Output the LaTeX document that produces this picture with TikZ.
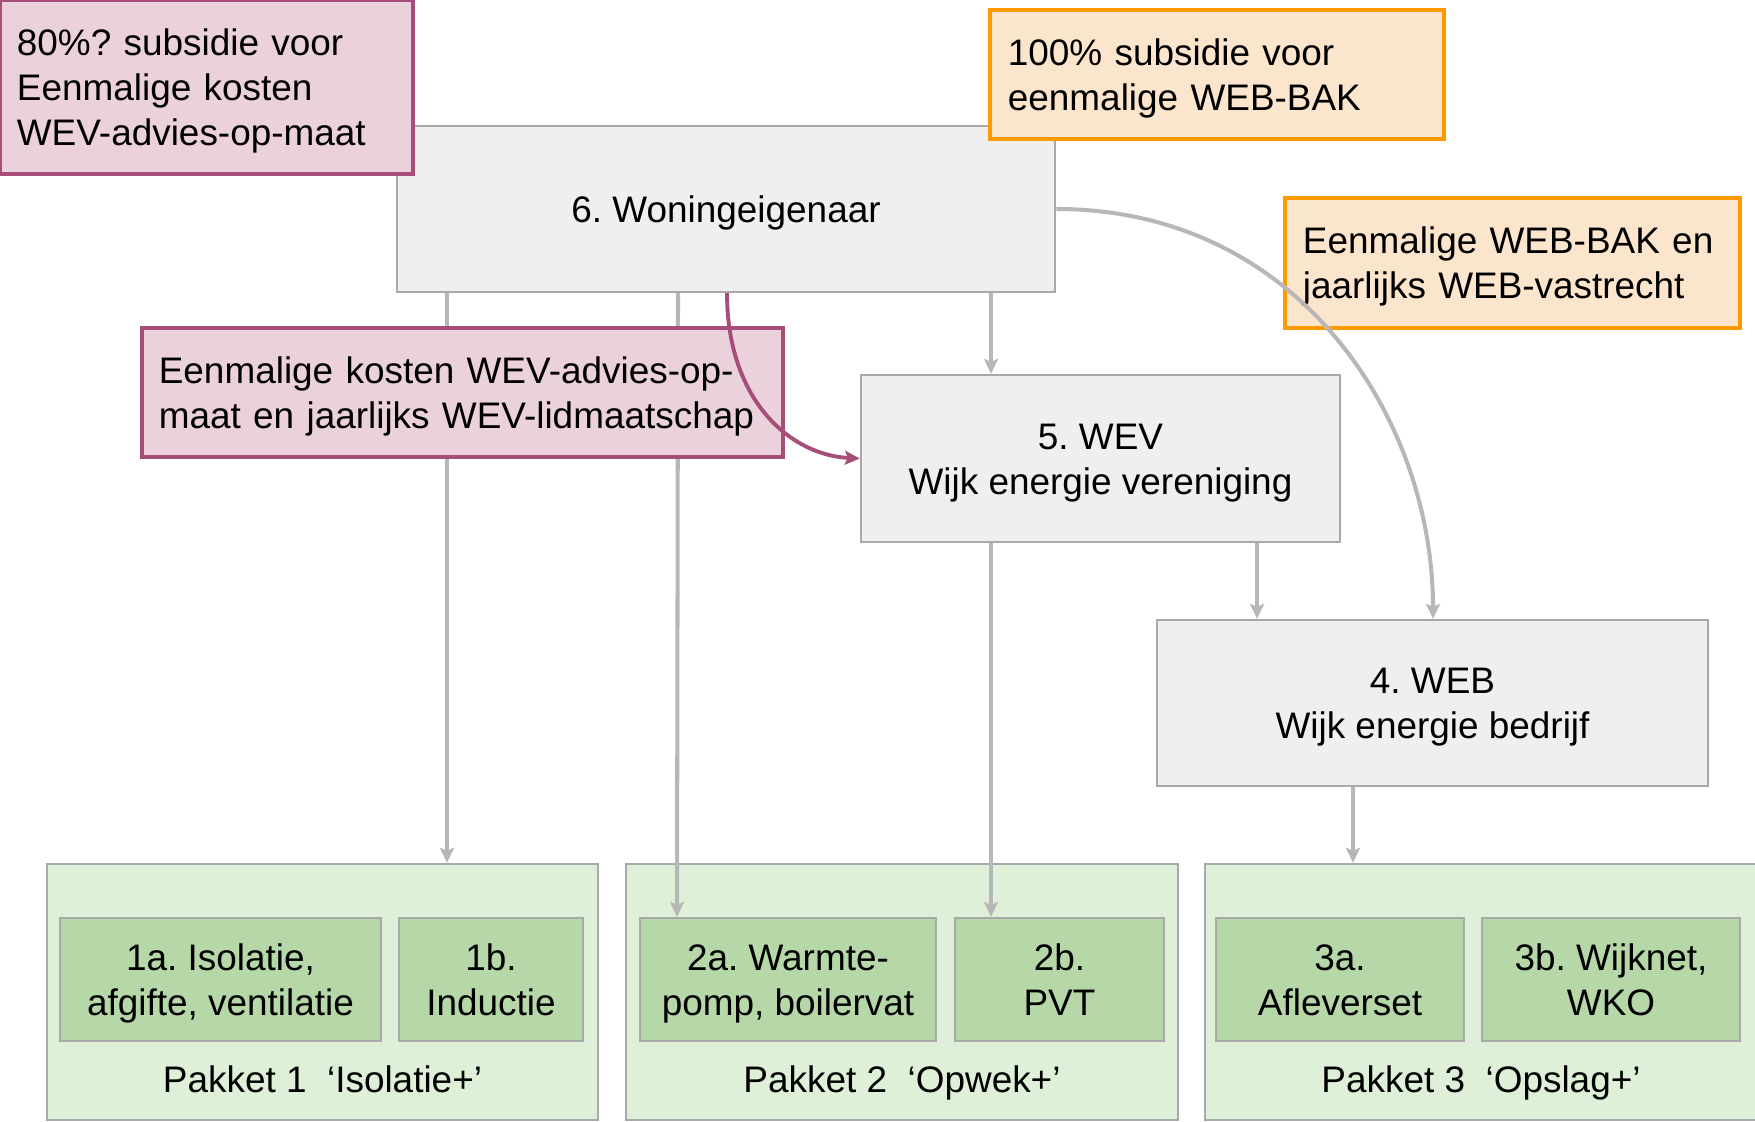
\documentclass[tikz,border=0pt]{standalone}
\usepackage{fontspec}
\setmainfont{Liberation Sans}
\usetikzlibrary{arrows.meta}
\definecolor{pinkfill}{HTML}{EAD1DC}
\definecolor{pinkline}{HTML}{A64D79}
\definecolor{orangefill}{HTML}{FCE5CD}
\definecolor{orangeline}{HTML}{FF9900}
\definecolor{greyfill}{HTML}{EFEFEF}
\definecolor{boxgrey}{HTML}{A9A9A9}
\definecolor{arrowgrey}{HTML}{B7B7B7}
\definecolor{pkgfill}{HTML}{DFF0D8}
\definecolor{itemfill}{HTML}{B6D7A8}
\frenchspacing
\newcommand\tstrut{\rule{0pt}{0.93em}}
\newcommand\bstrut{\rule[-0.214em]{0pt}{0pt}}
\begin{document}
\begin{tikzpicture}[x=0.01cm,y=-0.01cm,
  every node/.style={font=\fontsize{10.5pt}{12.8pt}\selectfont},
  struts/.style={execute at begin node={\tstrut}, execute at end node={\bstrut}},
  greybox/.style={draw=boxgrey, fill=greyfill, line width=0.6pt, rectangle, inner sep=0pt, align=center},
  pkgbox/.style={draw=boxgrey, fill=pkgfill, line width=0.6pt, rectangle, inner sep=0pt},
  itembox/.style={draw=boxgrey, fill=itemfill, line width=0.6pt, rectangle, inner sep=0pt, align=center},
  pkglabel/.style={anchor=base, inner sep=0pt},
  pinkbox/.style={draw=pinkline, fill=pinkfill, line width=1pt, rectangle, inner ysep=0pt, inner xsep=0.17cm, align=left, struts},
  orangebox/.style={draw=orangeline, fill=orangefill, line width=1.1pt, rectangle, inner ysep=0pt, inner xsep=0.18cm, align=left, struts},
  flow/.style={draw=arrowgrey, line width=1.15pt, -{Stealth[length=0.15cm,width=0.14cm,inset=0.03cm]}},
  money/.style={draw=pinkline, line width=1.1pt, -{Stealth[length=0.15cm,width=0.14cm,inset=0.03cm]}}
]
\useasboundingbox (0,0) rectangle (1755,1122);

% main actors
\node[greybox, minimum width=6.58cm, minimum height=1.66cm] (wo) at (726,209) {\tstrut 6. Woningeigenaar\bstrut};
\node[greybox, minimum width=4.79cm, minimum height=1.67cm] (wev) at (1100.5,458.5) {\tstrut 5. WEV\\Wijk energie vereniging\bstrut};
\node[greybox, minimum width=5.51cm, minimum height=1.66cm] (web) at (1432.5,703) {\tstrut 4. WEB\\Wijk energie bedrijf\bstrut};

% packages
\node[pkgbox, minimum width=5.51cm, minimum height=2.56cm] (p1) at (322.5,992) {};
\node[pkgbox, minimum width=5.52cm, minimum height=2.56cm] (p2) at (902,992) {};
\node[pkgbox, minimum width=5.52cm, minimum height=2.56cm] (p3) at (1481,992) {};

\node[itembox, minimum width=3.21cm, minimum height=1.23cm] (i1a) at (220.5,979.5) {\tstrut 1a. Isolatie,\\afgifte, ventilatie\bstrut};
\node[itembox, minimum width=1.84cm, minimum height=1.23cm] (i1b) at (491,979.5) {\tstrut 1b.\\Inductie\bstrut};
\node[itembox, minimum width=2.96cm, minimum height=1.23cm] (i2a) at (788,979.5) {\tstrut 2a. Warmte-\\pomp, boilervat\bstrut};
\node[itembox, minimum width=2.09cm, minimum height=1.23cm] (i2b) at (1059.5,979.5) {\tstrut 2b.\\PVT\bstrut};
\node[itembox, minimum width=2.48cm, minimum height=1.23cm] (i3a) at (1340,979.5) {\tstrut 3a.\\Afleverset\bstrut};
\node[itembox, minimum width=2.58cm, minimum height=1.23cm] (i3b) at (1611,979.5) {\tstrut 3b. Wijknet,\\WKO\bstrut};

\node[pkglabel] (l1) at (322.5,1092) {Pakket 1\ \ ‘Isolatie+’};
\node[pkglabel] (l2) at (902,1092) {Pakket 2\ \ ‘Opwek+’};
\node[pkglabel] (l3) at (1481,1092) {Pakket 3\ \ ‘Opslag+’};

% straight flows behind the pink callout
\draw[flow] (wo.south -| 447,0) -- (p1.north -| 447,0);
\draw[flow] (wo.south -| 678,0) -- (i2a.north -| 677,0);

% callouts
\node[pinkbox, text width=6.07cm, minimum height=1.29cm] (c2) at (462.5,392.5) {Eenmalige kosten WEV-advies-op-\\maat en jaarlijks WEV-lidmaatschap};
\node[pinkbox, text width=3.79cm, minimum height=1.74cm] (c1) at (206.5,87) {80\%? subsidie voor\\Eenmalige kosten\\WEV-advies-op-maat};
\node[orangebox, text width=4.18cm, minimum height=1.29cm] (c3) at (1217,74.5) {100\% subsidie voor\\eenmalige WEB-BAK};
\node[orangebox, text width=4.19cm, minimum height=1.30cm] (c4) at (1512.5,263) {Eenmalige WEB-BAK en\\jaarlijks WEB-vastrecht};

% other flows
\draw[flow] (wo.south -| 991,0) -- (wev.north -| 991,0);
\draw[flow] (wev.south -| 991,0) -- (i2b.north -| 991,0);
\draw[flow] (wev.south -| 1257,0) -- (web.north -| 1257,0);
\draw[flow] (web.south -| 1353,0) -- (p3.north -| 1353,0);
\draw[flow] (wo.east) .. controls (1300,209) and (1433,420) .. (web.north -| 1433,0);
\draw[money] (wo.south -| 727,0) .. controls (727,400) and (790,455) .. (wev.west);
\end{tikzpicture}
\end{document}
